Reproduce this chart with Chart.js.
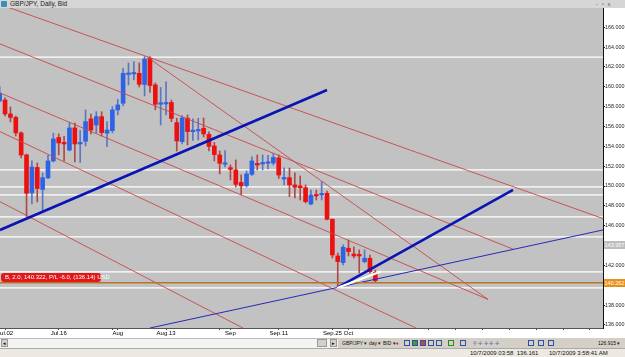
<!DOCTYPE html>
<html lang="en">
<head>
  <meta charset="UTF-8">
  <title>GBP/JPY, Daily, Bid</title>
  <script src="https://cdn.jsdelivr.net/npm/chart.js"></script>
  <style>
    body {
      margin: 0;
      width: 625px;
      height: 357px;
      overflow: hidden;
      position: relative;
      background: #d4d0c8;
      font-family: "Liberation Sans", Arial, sans-serif;
    }
    #titleBar {
      position: absolute; left: 0; top: 0; width: 625px; height: 8px;
      background: #d6d6d6; font-size: 6.5px; line-height: 8px; color: #222;
    }
    #titleBar .icon { position: absolute; left: 1px; top: 1px; width: 6px; height: 6px; background: #3a8fb8; border-radius: 1px; }
    #titleBar .name { position: absolute; left: 10px; top: 0; }
    #titleBar .btns { position: absolute; left: 596px; top: 0; font-size: 6px; word-spacing: 2px; color: #555; }
    #chartBox { position: absolute; left: 0; top: 8px; width: 625px; height: 330px; background: #fff; }
    .axisTag {
      position: absolute; left: 604px; width: 21px; height: 8px;
      font-size: 5.5px; line-height: 8px; color: #fff; text-align: center;
    }
    #orderTag {
      position: absolute; left: 1px; top: 273px; width: 100px; height: 9px;
      background: #e01818; border-radius: 3px; color: #fff;
      font-size: 6px; line-height: 9px; text-indent: 4px; white-space: nowrap;
    }
    #scrollRow { position: absolute; left: 0; top: 338px; width: 338px; height: 9px; background: #f4f4f4; border-top: 1px solid #bbb; }
    #scrollRow .btn { position: absolute; top: 0; width: 7px; height: 8px; background: #d4d0c8; border: 1px solid #999; box-sizing: border-box; font-size: 5px; line-height: 7px; text-align: center; }
    #toolBar {
      position: absolute; left: 338px; top: 338px; width: 287px; height: 10px;
      background: #d4d0c8; font-size: 5px; line-height: 10px; white-space: nowrap; color: #111;
    }
    #toolBar span { position: absolute; top: 0; }
    #toolBar i { position: absolute; top: 2px; width: 6px; height: 6px; border: 1px solid #3050a0; box-sizing: border-box; }
    #statusBar {
      position: absolute; left: 0; top: 348px; width: 625px; height: 9px;
      background: #ece9e2; border-top: 1px solid #aaa; font-size: 6px; line-height: 9px; color: #111;
    }
    #statusBar span { position: absolute; top: 0; }
  </style>
</head>
<body>
  <div id="titleBar">
    <div class="icon"></div>
    <div class="name">GBP/JPY, Daily, Bid</div>
    <div class="btns">- ▫ x</div>
  </div>

  <div id="chartBox">
    <canvas id="chart" width="625" height="330"></canvas>
  </div>

  <div id="orderTag">B, 2.0, 140.322, P/L -6.0, (136.14) USD</div>
  <div class="axisTag" style="top:241px; background:#bdbdbd;">143.957</div>
  <div class="axisTag" style="top:279px; background:#e8901c;">140.262</div>

  <div id="scrollRow">
    <div class="btn" style="left:1px;">◂</div>
    <div class="btn" style="left:317px; width:10px;"></div>
    <div class="btn" style="left:330px;">▸</div>
  </div>
  <div id="toolBar">
    <span style="left:4px;">GBP/JPY ▾</span>
    <span style="left:31px;">day ▾</span>
    <span style="left:45px;">BID ▾</span>
    <span style="left:58px; color:#d02020;">♦</span>
    <i style="left:66px;"></i><i style="left:74px; background:#3c9c3c;"></i>
    <i style="left:82px; background:#d04040;"></i><i style="left:90px;"></i><i style="left:98px;"></i>
    <i style="left:110px; border-color:#2a8a2a;"></i><i style="left:122px;"></i>
    <span style="left:135px; color:#3050a0;">⚲ ✢ ✢ ✢ ✢</span>
    <i style="left:190px;"></i><i style="left:200px;"></i><i style="left:210px;"></i>
    <span style="left:260px;">126.915 ▾</span>
  </div>
  <div id="statusBar">
    <span style="left:470px;">10/7/2009 03:58 &nbsp;136.161</span>
    <span style="left:549px;">10/7/2009 3:58:41 AM</span>
  </div>

  <script>
    // daily candles, Jul 1 .. Oct 7 2009 (index = trading day)
    const opens = [158.57, 158.67, 157.26, 156.91, 155.35, 153.13, 149.30, 151.87, 149.65, 150.81,
                   152.53, 154.89, 154.39, 153.63, 155.85, 154.24, 154.51, 156.76, 156.15, 156.99,
                   155.32, 155.58, 157.67, 158.34, 161.24, 161.29, 161.36, 160.23, 162.88, 160.19,
                   158.24, 158.27, 158.42, 156.39, 154.47, 156.83, 155.48, 155.55, 155.82, 155.20,
                   154.04, 153.13, 152.19, 151.85, 151.62, 150.36, 150.04, 151.17, 152.27, 152.22,
                   152.29, 152.32, 152.83, 150.71, 150.84, 150.11, 150.01, 149.83, 148.19, 149.10,
                   149.10, 149.27, 146.65, 142.95, 142.28, 143.73, 143.15, 143.05, 142.38, 142.72,
                   141.27];
    const highs = [160.01, 158.88, 157.97, 157.06, 155.45, 153.23, 152.53, 152.32, 151.32, 153.08,
                   155.32, 155.25, 155.00, 156.40, 156.35, 155.60, 157.67, 157.26, 157.49, 157.49,
                   156.49, 158.00, 158.74, 161.87, 162.40, 162.53, 162.40, 163.04, 163.04, 160.39,
                   159.93, 160.49, 158.67, 156.83, 157.11, 157.16, 156.76, 156.83, 156.86, 155.45,
                   154.39, 153.53, 153.58, 152.12, 152.63, 151.12, 151.52, 152.93, 153.13, 153.13,
                   153.08, 153.28, 153.13, 151.82, 151.82, 151.32, 151.01, 150.11, 149.60, 149.60,
                   150.44, 149.50, 146.68, 143.25, 144.06, 144.56, 143.86, 143.56, 143.56, 143.05,
                   141.54];
    const lows = [158.47, 157.06, 156.46, 155.04, 152.83, 146.93, 148.19, 148.39, 147.39, 150.76,
                  152.42, 153.13, 152.53, 153.53, 152.42, 152.37, 154.04, 155.25, 155.35, 155.04,
                  153.97, 155.35, 157.16, 158.07, 160.19, 160.69, 159.98, 159.08, 159.43, 157.67,
                  156.15, 157.16, 156.49, 153.53, 154.24, 154.14, 154.59, 154.64, 154.94, 153.53,
                  152.53, 151.22, 151.92, 150.61, 149.90, 149.10, 149.90, 151.07, 151.62, 151.62,
                  151.72, 152.12, 150.76, 150.11, 148.93, 148.80, 148.59, 148.29, 148.09, 148.59,
                  148.59, 146.58, 142.75, 139.73, 142.04, 142.95, 142.75, 141.24, 142.25, 141.24,
                  140.28];
    const closes = [159.35, 157.26, 156.91, 155.35, 153.13, 149.27, 151.92, 149.75, 150.84, 152.53,
                    154.74, 154.34, 154.24, 155.85, 154.24, 154.37, 156.49, 155.65, 156.99, 155.38,
                    155.65, 157.67, 158.17, 161.36, 161.34, 161.42, 160.25, 162.80, 160.13, 158.24,
                    158.37, 158.37, 156.81, 154.54, 156.86, 155.48, 155.60, 155.65, 155.25, 153.99,
                    153.16, 152.29, 152.29, 151.67, 150.16, 150.01, 151.22, 152.53, 152.12, 152.32,
                    152.42, 152.88, 151.11, 150.86, 150.11, 149.88, 149.83, 148.42, 149.10, 149.00,
                    149.25, 146.65, 143.05, 142.38, 143.83, 143.39, 142.95, 142.95, 142.72, 141.37,
                    140.46];

    // axis ticks (x = trading-day index)
    const yTicks = [136, 138, 140, 142, 144, 146, 148, 150, 152, 154, 156, 158, 160, 162, 164, 166];
    const xTickPos = [1, 11, 21, 22, 31, 41, 43, 52, 62, 65, 80, 85, 90, 95, 100, 105, 110];
    const xTickText = ['Jul.02', 'Jul.16', '', 'Aug', 'Aug.13', '', 'Sep', 'Sep.11', 'Sep.25', 'Oct',
                       '', '', '', '', '', '', ''];
    const xRange = [0.056, 112.43];
    const yRange = [135.69, 167.94];

    // horizontal levels drawn on the chart
    const whiteLevels = [162.98, 151.62, 149.91, 149.10, 146.88, 144.87, 141.34, 139.73];
    const orderLevel = 140.26;

    // trend lines: [[dayIndex, price], [dayIndex, price]]
    const redLines = [
      [[0.056, 168.30], [112.43, 146.72]],
      [[0.056, 164.32], [95.66, 143.64]],
      [[0.056, 159.38], [91.0, 138.57]],
      [[27.45, 163.01], [91.0, 138.57]],
      [[0.056, 155.48], [77.58, 135.69]],
      [[0.056, 148.42], [45.34, 135.69]]
    ];
    const blueThickLines = [
      [[0.056, 145.57], [61.0, 159.68]],
      [[62.86, 139.73], [95.66, 149.60]]
    ];
    const blueThinLines = [
      [[28.01, 135.69], [112.43, 145.57]]
    ];
    const whiteTrend = [[62.86, 139.73], [71.06, 141.39]];

    const isUp = closes.map((c, i) => c >= opens[i]);
    const bodyBlue = '#2f63e6', bodyRed = '#ec1010';
    const wickBlue = '#5a76c4', wickRed = '#b04848';

    function seg(pts, color, width, order) {
      return {
        type: 'line',
        data: pts.map(p => ({ x: p[0], y: p[1] })),
        borderColor: color,
        borderWidth: width,
        pointRadius: 0,
        fill: false,
        tension: 0,
        order: order
      };
    }

    let datasets = [];
    whiteLevels.forEach(v => datasets.push(seg([[xRange[0], v], [xRange[1], v]], '#ffffff', 1.2, 20)));
    datasets.push(seg([[xRange[0], orderLevel], [xRange[1], orderLevel]], '#b8742a', 1.5, 3));

    datasets.push({
      type: 'bar',
      data: highs.map((h, i) => ({ x: i, y: [lows[i], h] })),
      backgroundColor: isUp.map(u => u ? wickBlue : wickRed),
      barThickness: 1,
      grouped: false,
      order: 11
    });
    datasets.push({
      type: 'bar',
      data: opens.map((o, i) => ({ x: i, y: [o, closes[i]] })),
      backgroundColor: isUp.map(u => u ? bodyBlue : bodyRed),
      barThickness: 4,
      minBarLength: 1.5,
      grouped: false,
      order: 10
    });

    redLines.forEach(l => datasets.push(seg(l, '#c84848', 0.9, 5)));
    blueThinLines.forEach(l => datasets.push(seg(l, '#2828b8', 1, 4)));
    blueThickLines.forEach(l => datasets.push(seg(l, '#0a14b4', 2.6, 2)));
    datasets.push(seg(whiteTrend, '#ffffff', 2.2, 1));

    const plotBg = {
      id: 'plotBg',
      beforeDraw(chart) {
        const { ctx, chartArea: a } = chart;
        ctx.save();
        ctx.fillStyle = '#c2c2c2';
        ctx.fillRect(a.left, a.top, a.width, a.height);
        ctx.restore();
      }
    };

    const tickFont = { family: '"Liberation Sans", Arial, sans-serif', size: 6 };

    new Chart(document.getElementById('chart'), {
      type: 'bar',
      data: { datasets: datasets },
      plugins: [plotBg],
      options: {
        responsive: false,
        animation: false,
        layout: { padding: 0 },
        plugins: { legend: { display: false }, tooltip: { enabled: false } },
        scales: {
          x: {
            type: 'linear',
            min: xRange[0],
            max: xRange[1],
            offset: false,
            grid: { offset: false, drawOnChartArea: false, tickLength: 2, color: '#444' },
            border: { color: '#555' },
            ticks: {
              font: tickFont, color: '#000', padding: 0, maxRotation: 0, autoSkip: false,
              callback: v => {
                const k = xTickPos.indexOf(v);
                return k >= 0 ? xTickText[k] : '';
              }
            },
            afterBuildTicks: s => { s.ticks = xTickPos.map(v => ({ value: v })); },
            afterFit: s => { s.height = 10; s.paddingLeft = 0; s.paddingRight = 0; }
          },
          y: {
            type: 'linear',
            position: 'right',
            min: yRange[0],
            max: yRange[1],
            grid: { drawOnChartArea: false, tickLength: 2, color: '#222' },
            border: { color: '#111' },
            ticks: { font: { family: tickFont.family, size: 5.4 }, color: '#222', padding: 0, callback: v => v.toFixed(3) },
            afterBuildTicks: s => { s.ticks = yTicks.map(v => ({ value: v })); },
            afterFit: s => { s.width = 22; s.paddingTop = 0; s.paddingBottom = 0; }
          }
        }
      }
    });
  </script>
</body>
</html>
